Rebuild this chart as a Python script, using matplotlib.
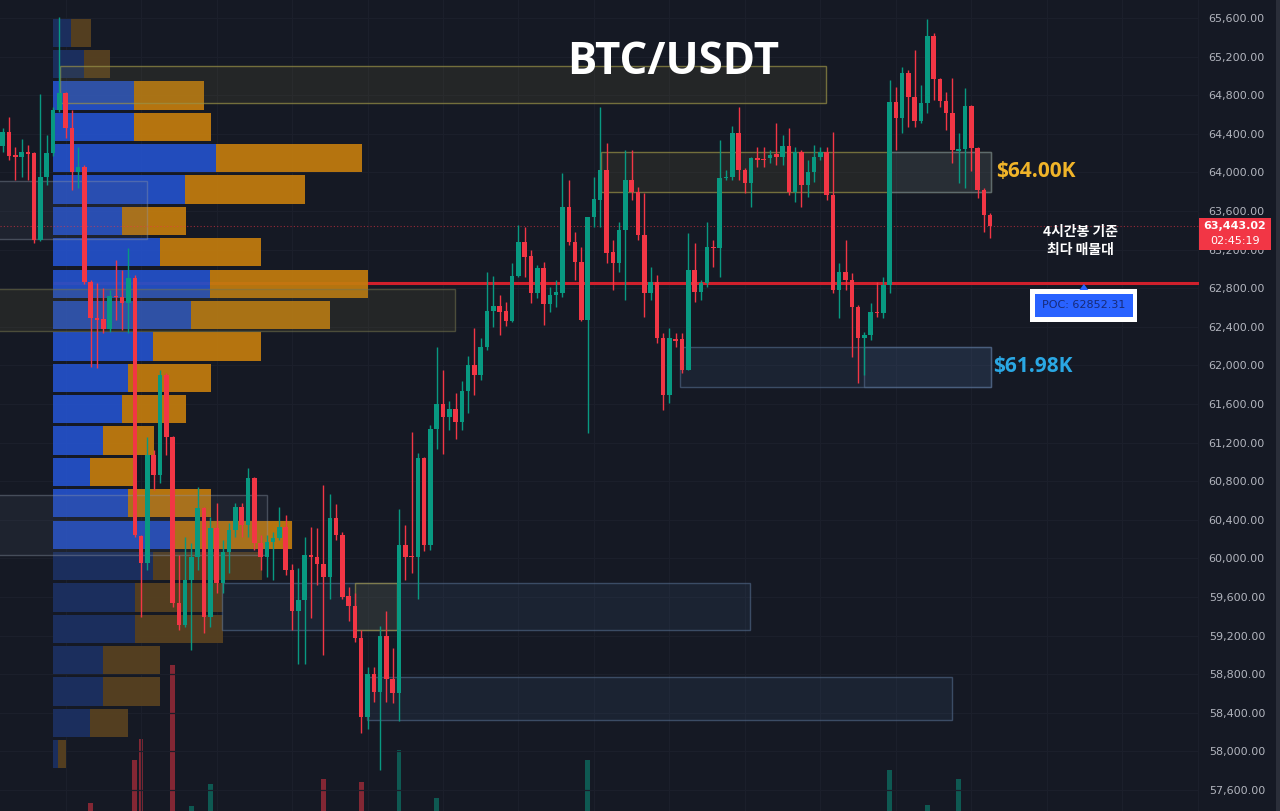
import matplotlib
matplotlib.use("Agg")
import matplotlib.pyplot as plt
import matplotlib.transforms as mtransforms
from matplotlib.patches import Rectangle, Polygon
import numpy as np

# ---------------- data ----------------
opens = [64274, 64419, 64180, 64159, 64211, 64201, 63300, 63952, 64201, 64647,
         64823, 64460, 64004, 64056, 62864, 62491, 62481, 62377, 62709, 62709,
         62647, 62906, 60232, 59952, 61071, 60864, 61900, 61258, 59538, 59310,
         59776, 60015, 60522, 59393, 60315, 59745, 60066, 60294, 60532, 60346,
         60833, 60160, 60015, 60170, 60211, 60325, 59875, 59458, 59565, 60038,
         60009, 59939, 59803, 60419, 60241, 59607, 59511, 59173, 58361, 58806,
         58613, 59191, 58745, 58603, 60135, 60027, 60009, 61042, 60135, 61345,
         61600, 61468, 61543, 61416, 61735, 62004, 61900, 62194, 62564, 62616,
         62564, 62460, 62926, 63282, 63134, 62753, 63012, 62636, 62730, 62753,
         63638, 63282, 63074, 62470, 63535, 63714, 64025, 63178, 63058, 63403,
         63921, 63800, 63351, 62747, 62867, 62281, 61693, 62270, 62270, 61952,
         62989, 62764, 62851, 63230, 63213, 63939, 63955, 64411, 64025, 63893,
         64146, 64140, 64146, 64191, 64163, 64277, 63800, 64208, 63869, 64007,
         64163, 64214, 63766, 62781, 62971, 62885, 62608, 62281, 62315, 62557,
         62540, 62833, 64733, 64561, 65033, 64784, 64536, 64716, 65414, 64965,
         64743, 64613, 64225, 64239, 64688, 64250, 63818, 63558]
highs = [64460, 64574, 64263, 64346, 64284, 64210, 64812, 64388, 64678, 65610,
         64833, 64647, 64263, 64077, 62885, 62854, 62802, 62781, 63092, 62989,
         63216, 62937, 60240, 61258, 61123, 61952, 61921, 61270, 60035, 60222,
         60160, 60740, 60532, 60429, 60574, 60191, 60367, 60574, 60574, 60937,
         60843, 60243, 60243, 60273, 60532, 60450, 59942, 59900, 60222, 60330,
         60315, 60757, 60667, 60564, 60277, 59707, 59636, 59262, 58870, 58874,
         59300, 59458, 59066, 60508, 60346, 61310, 61095, 61050, 61382, 62194,
         61952, 61631, 61709, 61843, 62092, 62388, 62284, 62971, 62926, 62729,
         62660, 63058, 63455, 63437, 63196, 63040, 63074, 62816, 62885, 63991,
         63921, 63385, 63230, 63541, 63955, 64681, 64301, 63299, 63489, 64232,
         64232, 63852, 63786, 63023, 62937, 62332, 62388, 62332, 62332, 63369,
         63265, 62885, 63489, 63299, 64336, 64025, 64481, 64681, 64042, 64163,
         64266, 64266, 64232, 64509, 64387, 64457, 64266, 64232, 64128, 64284,
         64266, 64266, 64422, 63058, 63299, 62954, 62626, 62349, 62643, 62867,
         62920, 64958, 64888, 65095, 65061, 65268, 64906, 65587, 65448, 64975,
         64836, 64975, 64405, 64872, 64698, 64266, 63835, 63576]
lows = [64211, 64128, 63921, 63952, 63921, 63268, 63290, 63869, 64170, 64626,
        64356, 63818, 63838, 62843, 61983, 61973, 62336, 62346, 62470, 62367,
        62336, 60222, 59393, 59880, 60709, 60781, 61071, 59496, 59258, 59289,
        59051, 59880, 59227, 59289, 59641, 59641, 59849, 60222, 60222, 60222,
        60087, 59880, 59807, 59776, 60191, 59828, 59258, 58906, 58906, 59387,
        59724, 58995, 59582, 60191, 59582, 59351, 59136, 58194, 58232, 58512,
        57807, 58512, 58496, 58318, 59778, 59849, 59582, 60081, 60087, 61134,
        61082, 61331, 61237, 61327, 61507, 61693, 61849, 62160, 62401, 62315,
        62408, 62453, 62919, 62919, 62643, 62695, 62419, 62556, 62608, 62712,
        63248, 62885, 62460, 61296, 63437, 63437, 63058, 62781, 62971, 62678,
        63714, 63299, 62505, 62678, 62229, 61538, 61610, 62194, 61918, 61952,
        62660, 62678, 62817, 63023, 62919, 63921, 63921, 63921, 63783, 63645,
        64059, 64059, 64094, 64077, 64077, 63766, 63696, 63645, 63748, 63904,
        64128, 63714, 62747, 62488, 62781, 62090, 61814, 61901, 62263, 62505,
        62488, 62747, 64232, 64405, 64474, 64474, 64509, 64612, 64750, 64681,
        64439, 64094, 63887, 63835, 64010, 63732, 63385, 63317]
closes = [64419, 64170, 64159, 64211, 64191, 63300, 63952, 64201, 64647, 64823,
          64460, 64004, 64056, 62864, 62491, 62470, 62377, 62719, 62705, 62647,
          62906, 60242, 59952, 61071, 60864, 61900, 61258, 59538, 59310, 59776,
          60015, 60522, 59393, 60315, 59745, 60066, 60294, 60532, 60346, 60833,
          60160, 60015, 60170, 60211, 60325, 59880, 59458, 59565, 60038, 60009,
          59939, 59803, 60419, 60241, 59600, 59511, 59173, 58361, 58806, 58613,
          59191, 58745, 58603, 60135, 60009, 60009, 61042, 60135, 61345, 61600,
          61468, 61543, 61416, 61735, 62004, 61900, 62194, 62564, 62616, 62557,
          62460, 62926, 63282, 63126, 62753, 63012, 62636, 62730, 62764, 63638,
          63282, 63074, 62470, 63535, 63724, 64025, 63162, 63058, 63403, 63921,
          63800, 63351, 62747, 62867, 62281, 61693, 62281, 62256, 61952, 62989,
          62764, 62851, 63230, 63213, 63939, 63955, 64411, 64025, 63893, 64146,
          64128, 64125, 64180, 64163, 64277, 63800, 64208, 63869, 64007, 64163,
          64214, 63766, 62781, 62971, 62885, 62608, 62281, 62315, 62557, 62540,
          62833, 64733, 64561, 65033, 64784, 64536, 64716, 65414, 64965, 64743,
          64613, 64232, 64239, 64688, 64250, 63818, 63558, 63443.02]

# volume bars that reach into view (candle index, volume)
vol_idx = [14, 21, 22, 27, 30, 33, 51, 57, 63, 69, 93, 141, 147, 152]
vol_val = [1360, 2220, 2640, 4120, 1300, 1740, 1840, 1780, 2420, 1460, 2220, 2020, 1320, 1840]

# volume profile rows, from lowest price row to highest
prof_up = [5, 37, 50, 50, 82, 82, 100, 120, 75, 37, 50, 69, 75, 100, 138, 157,
           107, 69, 132, 163, 81, 81, 31, 18]
prof_dn = [8, 38, 57, 57, 88, 88, 109, 119, 83, 47, 51, 64, 83, 108, 139, 158,
           101, 64, 120, 146, 77, 70, 26, 20]

poc_price = 62852.31
last_price = 63443.02
countdown = "02:45:19"
price_ticks = list(range(57600, 65601, 400))
title = "BTC/USDT"
label_hi = "$64.00K"
label_lo = "$61.98K"
note = "4시간봉 기준\n최다 매물대"

# ---------------- style ----------------
BG = "#151924"
GRID = "#1b1f2b"
UP = "#089981"
DN = "#f23645"
BLUE = "#2451c9"
ORANGE = "#c27c0e"
BLUE_DIM = "#1c3062"
ORANGE_DIM = "#584220"
BOLDFONT = ["Open Sans", "Lato", "DejaVu Sans"]

opens = np.array(opens, float); highs = np.array(highs, float)
lows = np.array(lows, float); closes = np.array(closes, float)
n = len(opens)
idx = np.arange(n)

fig = plt.figure(figsize=(12.8, 8.11), dpi=100, facecolor=BG)
AXW = 1199 / 1280

# volume pane (baseline sits below the visible area)
axv = fig.add_axes([0, -60 / 811, AXW, 400 / 811])
axv.set_facecolor("none")
axv.set_axis_off()

ax = fig.add_axes([0, 0, AXW, 1])
ax.set_facecolor("none")
XL = (-0.43, 190.2)
YL = (57382, 65786)

vcol = [UP if closes[i] >= opens[i] else DN for i in vol_idx]
axv.bar(vol_idx, vol_val, width=0.75, color=vcol, alpha=0.5, linewidth=0)
axv.set_xlim(*XL)
axv.set_ylim(0, 8000)

# grid / axes
for s in ax.spines.values():
    s.set_visible(False)
ax.set_axisbelow(True)
ax.set_yticks(price_ticks)
ax.set_yticklabels([f"{p:,.2f}" for p in price_ticks])
ax.yaxis.tick_right()
ax.tick_params(axis="y", length=0, pad=7, labelcolor="#b2b5be", labelsize=8)
ax.set_xticks(np.arange(10, 191, 12))
ax.tick_params(axis="x", length=0, labelbottom=False)
ax.grid(True, color=GRID, lw=0.9)

# zones
olive_f = (0.45, 0.42, 0.22, 0.17); olive_e = (0.60, 0.57, 0.28, 0.7)
blue_f = (0.25, 0.35, 0.50, 0.16); blue_e = (0.33, 0.42, 0.55, 0.6)
gray_f = (0.35, 0.38, 0.45, 0.14); gray_e = (0.55, 0.58, 0.65, 0.4)
zones = [
    (9.1, 130.9, 65102, 64719, olive_f, olive_e),
    (95.1, 157.1, 64211, 63797, olive_f, olive_e),
    (141.1, 157.1, 64211, 63797, blue_f, blue_e),
    (107.7, 157.1, 62191, 61777, blue_f, blue_e),
    (136.9, 157.1, 62191, 61777, blue_f, blue_e),
    (-1.0, 22.9, 63911, 63310, gray_f, gray_e),
    (-1.0, 71.9, 62792, 62357, olive_f, (0.45, 0.45, 0.3, 0.55)),
    (-1.0, 42.0, 60657, 60035, gray_f, gray_e),
    (34.9, 118.8, 59745, 59258, blue_f, blue_e),
    (56.0, 62.7, 59745, 59258, olive_f, olive_e),
    (57.9, 150.9, 58771, 58322, blue_f, blue_e),
]
for x0, x1, top, bot, fc, ec in zones:
    ax.add_patch(Rectangle((x0, bot), x1 - x0, top - bot, facecolor=fc,
                           edgecolor=ec, lw=1, zorder=3))

# POC line
trA = mtransforms.blended_transform_factory(ax.transAxes, ax.transData)
ax.plot([53 / 1199, 1.0], [poc_price, poc_price], transform=trA, color="#d0202c",
        lw=2.2, zorder=1.8, solid_capstyle="butt")

# volume profile
lo, hi = lows.min(), highs.max()
nr = len(prof_up)
edges = np.linspace(lo, hi, nr + 1)
rh = edges[1] - edges[0]
tot = np.array(prof_up) + np.array(prof_dn)
poc = int(np.argmax(tot))
va_lo = va_hi = poc
acc = tot[poc]
target = 0.7 * tot.sum()
while acc < target:
    up_sum = tot[va_hi + 1:va_hi + 3].sum() if va_hi < nr - 1 else -1
    dn_sum = tot[max(va_lo - 2, 0):va_lo].sum() if va_lo > 0 else -1
    if up_sum >= dn_sum:
        va_hi = min(va_hi + 2, nr - 1); acc += up_sum
    else:
        va_lo = max(va_lo - 2, 0); acc += dn_sum
PL = 53 / 1199
PX = 1 / 1199
for r in range(nr):
    inva = va_lo <= r <= va_hi
    yc = edges[r] + rh / 2
    ax.barh(yc, prof_up[r] * PX, left=PL, height=rh * 0.9, transform=trA,
            color=BLUE if inva else BLUE_DIM, alpha=0.93, linewidth=0, zorder=2)
    ax.barh(yc, prof_dn[r] * PX, left=PL + prof_up[r] * PX, height=rh * 0.9,
            transform=trA, color=ORANGE if inva else ORANGE_DIM, alpha=0.93,
            linewidth=0, zorder=2)

# last price dotted line
ax.axhline(last_price, color=DN, lw=0.8, ls=(0, (1, 2)), alpha=0.6, zorder=4)

# candles
cols = np.where(closes >= opens, UP, DN)
ax.vlines(idx, lows, highs, colors=cols, lw=1, zorder=5)
ax.bar(idx, np.maximum(np.abs(closes - opens), 14), bottom=np.minimum(opens, closes),
       width=0.72, color=cols, linewidth=0, zorder=5)

ax.set_xlim(*XL)
ax.set_ylim(*YL)

# texts
fig.text(673 / 1280, 1 - 63 / 811, title, color="white", fontsize=31.5,
         fontweight="bold", family=BOLDFONT, ha="center", va="center")
ax.text(157.9, 64004, label_hi, color="#f0b429", fontsize=15, fontweight="bold",
        family=BOLDFONT, ha="left", va="center", zorder=7)
ax.text(157.4, 61984, label_lo, color="#2aa7e3", fontsize=15, fontweight="bold",
        family=BOLDFONT, ha="left", va="center", zorder=7)
ax.text(171.3, 63290, note, color="white", fontsize=10, fontweight="bold",
        family=["Noto Sans CJK KR", "DejaVu Sans"], ha="center", va="center",
        linespacing=1.35, zorder=7)

# POC label
ax.add_patch(Rectangle((163.3, 62450), 17.0, 342, facecolor="white", lw=0, zorder=7))
ax.add_patch(Rectangle((164.1, 62502), 15.6, 238, facecolor="#2962ff", lw=0, zorder=8))
ax.add_patch(Polygon([[171.9, poc_price - 8], [171.2, 62781], [172.6, 62781]],
                     closed=True, facecolor="#2962ff", lw=0, zorder=8))
ax.text(171.9, 62621, f"POC: {poc_price:.2f}", color="#172a78", fontsize=8,
        ha="center", va="center", zorder=9)

# last price tag on the scale
ax.add_patch(Rectangle((1.0, last_price - 248), 72 / 1199, 332, transform=trA,
                       facecolor=DN, lw=0, zorder=10, clip_on=False))
ax.text(1.0 + 36 / 1199, last_price, f"{last_price:,.2f}", transform=trA,
        color="white", fontsize=8, fontweight="bold", ha="center", va="center",
        zorder=11, clip_on=False)
ax.text(1.0 + 36 / 1199, last_price - 155, countdown, transform=trA,
        color="white", fontsize=8, ha="center", va="center", zorder=11, clip_on=False)

fig.add_artist(Rectangle((1276 / 1280, 0), 4 / 1280, 1, transform=fig.transFigure,
                         facecolor="#2a2e39", lw=0))

fig.savefig("out.png", dpi=100, facecolor=BG)
